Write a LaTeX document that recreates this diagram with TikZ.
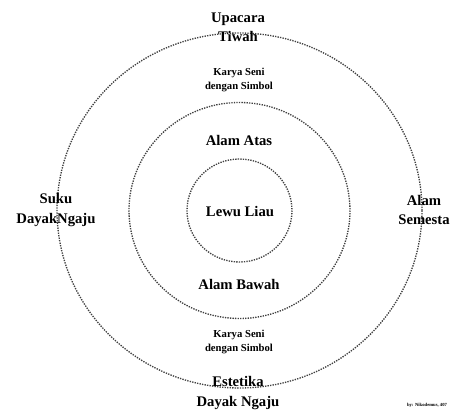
\documentclass[tikz,border=0pt]{standalone}
\usepackage{fontspec}
\setmainfont{Liberation Serif}
\begin{document}
\begin{tikzpicture}[x=0.75pt,y=-0.75pt,
  ring/.style={draw=black!75,line width=1pt,dash pattern=on 1pt off 0.9pt},
  big/.style={font=\fontsize{11}{14.5}\selectfont\bfseries,align=center,inner sep=0pt},
  small/.style={font=\fontsize{8}{11}\selectfont\bfseries,align=center,inner sep=0pt},
  tiny/.style={font=\fontsize{3.5}{4}\selectfont\bfseries,inner sep=0pt}]
\useasboundingbox (0,0) rectangle (453,410);
\coordinate (c) at (239.5,210.5);
\draw[ring] (c) ellipse [x radius=182.5, y radius=177.5];
\draw[ring] (c) ellipse [x radius=110.5, y radius=108];
\draw[ring] (c) ellipse [x radius=52.5, y radius=51.5];
\node[big] (up) at (238,27) {Upacara\\Tiwah};
\node[small] (k1) at (239,80) {Karya Seni\\dengan Simbol};
\node[big] (aa) at (239,140) {Alam Atas};
\node[big] (ll) at (240,211) {Lewu Liau};
\node[big] (ab) at (239,284) {Alam Bawah};
\node[small] (k2) at (239,342) {Karya Seni\\dengan Simbol};
\node[big] (es) at (238,393) {Estetika\\Dayak Ngaju};
\node[big] (sd) at (56,210) {Suku\\DayakNgaju};
\node[big] (as) at (424,210) {Alam\\Semesta};
\node[tiny] (by) at (427,405) {by: Nikodemus, 407};
\end{tikzpicture}
\end{document}
